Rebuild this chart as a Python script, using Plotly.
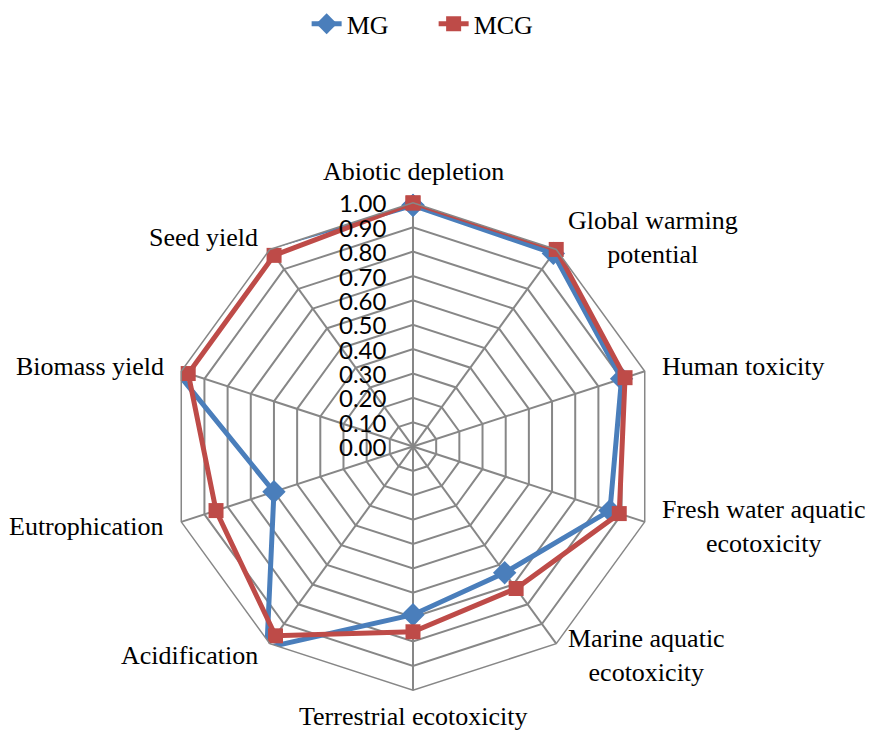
import math
import plotly.graph_objects as go

# Impact categories, clockwise from the top
categories = [
    "Abiotic depletion",
    "Global warming<br>potential",
    "Human toxicity",
    "Fresh water aquatic<br>ecotoxicity",
    "Marine aquatic<br>ecotoxicity",
    "Terrestrial ecotoxicity",
    "Acidification",
    "Eutrophication",
    "Biomass yield",
    "Seed yield",
]

# Normalised scores per scenario
mg_values = [0.99, 0.98, 0.90, 0.85, 0.64, 0.69, 1.02, 0.60, 1.03, 1.01]
mcg_values = [1.00, 1.00, 0.915, 0.89, 0.72, 0.76, 0.96, 0.85, 0.97, 0.97]

radial_ticks = [round(i * 0.1, 1) for i in range(11)]
radial_max = 1.0

W, H = 869, 734
cx, cy, R = 413, 445, 245

BLUE = "#4A7EBB"
RED = "#BE4B48"
GRID = "#878787"
SERIF = "Liberation Serif, Times New Roman, serif"
SANS = "Lato, Carlito, sans-serif"


def closed(seq):
    return list(seq) + [seq[0]]


fig = go.Figure()
fig.add_trace(go.Scatterpolar(
    r=closed(mg_values), theta=closed(categories), name="MG",
    mode="lines+markers", cliponaxis=False,
    line=dict(color=BLUE, width=5),
    marker=dict(symbol="diamond", size=18, color=BLUE),
))
fig.add_trace(go.Scatterpolar(
    r=closed(mcg_values), theta=closed(categories), name="MCG",
    mode="lines+markers", cliponaxis=False,
    line=dict(color=RED, width=5),
    marker=dict(symbol="square", size=15, color=RED),
))

annotations = []

# Category labels placed just outside the outer polygon, anchored by direction
n = len(categories)
r_lab = 1.06 * R
for i, label in enumerate(categories):
    ang = math.radians(90 - 360 * i / n)
    ux, uy = math.cos(ang), math.sin(ang)
    px = cx + r_lab * ux
    py = cy - r_lab * uy
    shift = 0
    if abs(ux) < 0.1:
        xa = "center"
        ya = "bottom" if uy > 0 else "top"
        if uy < 0:
            shift = 5
    else:
        xa = "left" if ux > 0 else "right"
        ya = "middle"
    annotations.append(dict(
        text=label, x=px / W, y=1 - py / H, xref="paper", yref="paper",
        xanchor=xa, yanchor=ya, align="center", showarrow=False, yshift=shift,
        font=dict(family=SERIF, size=26, color="black"),
    ))

# Radial scale labels, set off to the left of the vertical spoke
for v in radial_ticks:
    py = cy - (v / radial_max) * R
    annotations.append(dict(
        text=f"{v:.2f}", x=cx / W, y=1 - py / H, xref="paper", yref="paper",
        xanchor="right", yanchor="middle", xshift=-24, showarrow=False,
        font=dict(family=SANS, size=24, color="black"),
    ))

fig.update_layout(
    width=W, height=H,
    margin=dict(l=0, r=0, t=0, b=0),
    paper_bgcolor="white",
    plot_bgcolor="white",
    font=dict(family=SERIF, size=26, color="black"),
    showlegend=True,
    legend=dict(
        orientation="h", x=0.499, xanchor="center", y=1.005, yanchor="top",
        font=dict(family=SERIF, size=26, color="black"),
        entrywidth=82, entrywidthmode="pixels",
    ),
    annotations=annotations,
    polar=dict(
        domain=dict(x=[(cx - R) / W, (cx + R) / W],
                    y=[1 - (cy + R) / H, 1 - (cy - R) / H]),
        gridshape="linear",
        bgcolor="white",
        radialaxis=dict(
            range=[0, radial_max], tickvals=radial_ticks,
            showticklabels=False, showline=False, ticks="",
            gridcolor=GRID, gridwidth=1.5,
        ),
        angularaxis=dict(
            direction="clockwise", rotation=90,
            showline=True, linecolor=GRID, linewidth=1.5,
            gridcolor=GRID, gridwidth=1.5, ticks="",
            showticklabels=False,
        ),
    ),
)

fig.write_html("out.html")
